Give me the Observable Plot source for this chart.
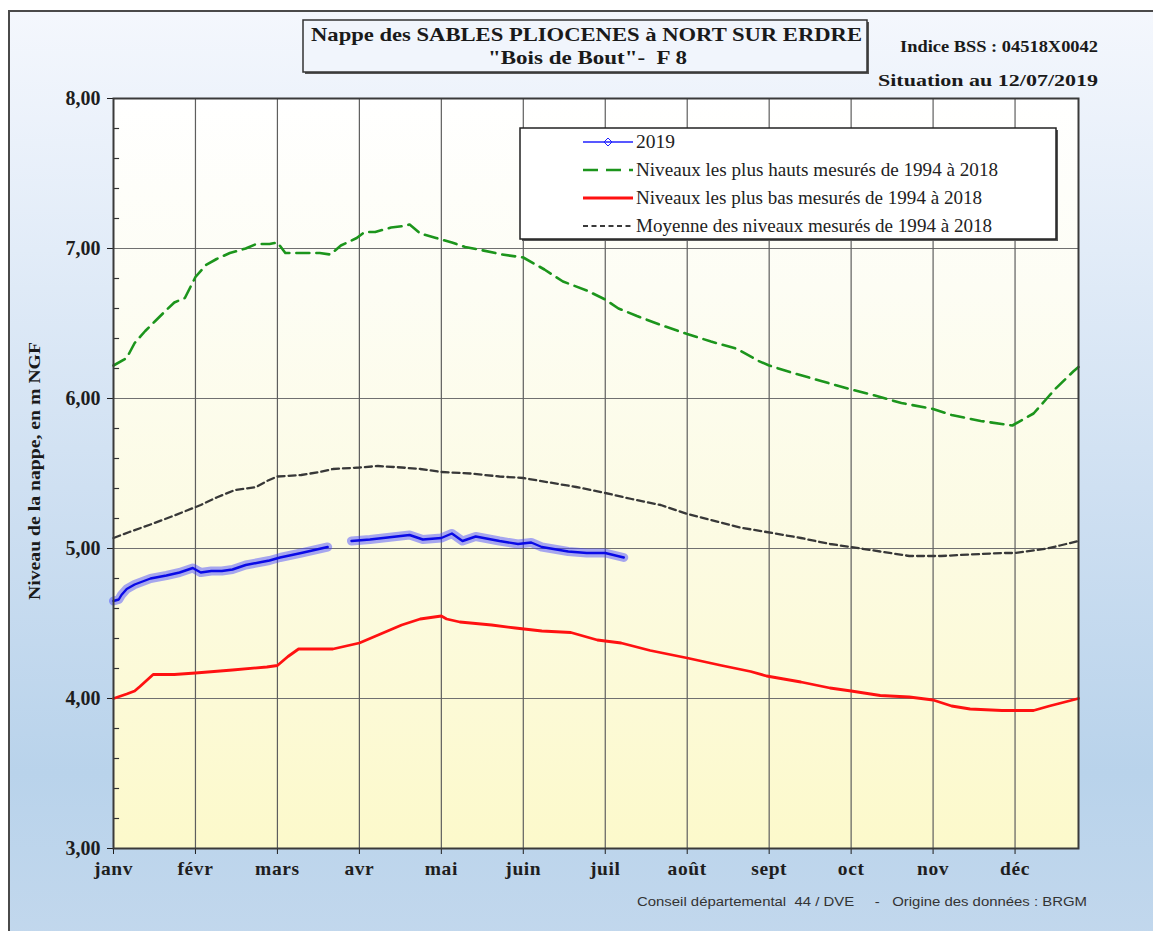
<!DOCTYPE html>
<html>
<head>
<meta charset="utf-8">
<script src="https://cdn.jsdelivr.net/npm/d3@7"></script>
<script src="https://cdn.jsdelivr.net/npm/@observablehq/plot@0.6"></script>
<style>
  html, body { margin: 0; padding: 0; background: #ffffff; }
  #wrap { position: relative; width: 1153px; height: 931px; overflow: hidden; }
  #bg { position: absolute; left: 8px; top: 10px; width: 1170px; height: 950px;
        border-left: 2px solid #4a4a4a; border-top: 2px solid #4a4a4a;
        background: linear-gradient(to bottom, #f4f7fd 0%, #e2ecf8 25%, #cfe0f2 50%, #b9d3eb 80%, #c3d8ed 100%); }
  #plotbg { position: absolute; left: 113px; top: 98px; width: 965px; height: 750px;
        background: linear-gradient(to bottom, #ffffff 0%, #fdfdf4 25%, #fcfbe2 60%, #fcf9cb 100%); }
  #chart { position: absolute; left: 0; top: 0; }
  #overlay { position: absolute; left: 0; top: 0; }
  #chart svg text { font-weight: bold; font-family: 'Liberation Serif', 'Times New Roman', serif; fill: #1e1e1e; }
  #chart svg g[aria-label="y-axis tick label"] text { font-size: 20px !important; }
  #chart svg g[aria-label="x-axis tick label"] text { font-size: 19.5px !important; letter-spacing: 0.6px; }
</style>
</head>
<body>
<div id="wrap">
  <div id="bg"></div>
  <div id="plotbg"></div>
  <div id="chart"></div>
</div>
<script>
// ---------- data ----------
const monthLabels = ["janv","févr","mars","avr","mai","juin","juil","août","sept","oct","nov","déc"];
const monthTicks  = [0,31,62,93,124,155,186,217,248,279,310,341];
const yTicks = [3,4,5,6,7,8];
const yMinorTicks = [3.2,3.4,3.6,3.8,4.2,4.4,4.6,4.8,5.2,5.4,5.6,5.8,6.2,6.4,6.6,6.8,7.2,7.4,7.6,7.8];

// 2019 measurements (null = missing data)
const days2019 = [0,2,3,5,8,14,20,25,30,33,37,41,45,50,56,59,63,71,76,81,85,90,97,102,107,112,117,124,128,132,137,146,153,158,162,172,179,186,193];
const vals2019 = [4.65,4.66,4.69,4.73,4.76,4.80,4.82,4.84,4.87,4.84,4.85,4.85,4.86,4.89,4.91,4.92,4.94,4.97,4.99,5.01,null,5.05,5.06,5.07,5.08,5.09,5.06,5.07,5.10,5.05,5.08,5.05,5.03,5.04,5.01,4.98,4.97,4.97,4.94];

// highest levels 1994-2018
const daysMax = [0,5,8,12,16,20,23,27,29,31,35,39,44,50,54,59,62,65,71,78,82,86,92,95,99,105,110,112,116,122,128,133,139,147,155,163,170,179,186,191,198,207,217,226,236,244,248,257,267,279,288,298,310,317,328,340,348,353,356,363,365];
const valsMax = [6.22,6.27,6.37,6.45,6.52,6.59,6.64,6.67,6.74,6.81,6.89,6.93,6.97,7.00,7.03,7.03,7.04,6.97,6.97,6.97,6.96,7.02,7.07,7.11,7.11,7.14,7.15,7.16,7.10,7.07,7.04,7.01,6.99,6.96,6.94,6.86,6.78,6.72,6.66,6.60,6.55,6.49,6.43,6.38,6.33,6.25,6.22,6.17,6.12,6.06,6.02,5.97,5.93,5.89,5.85,5.82,5.90,6.00,6.06,6.18,6.21];

// lowest levels 1994-2018
const daysMin = [0,5,8,10,15,23,31,45,58,62,66,70,83,93,101,109,116,124,126,131,143,152,162,173,183,192,203,217,230,241,247,260,271,279,290,301,310,317,324,336,348,354,365];
const valsMin = [4.00,4.03,4.05,4.08,4.16,4.16,4.17,4.19,4.21,4.22,4.28,4.33,4.33,4.37,4.43,4.49,4.53,4.55,4.53,4.51,4.49,4.47,4.45,4.44,4.39,4.37,4.32,4.27,4.22,4.18,4.15,4.11,4.07,4.05,4.02,4.01,3.99,3.95,3.93,3.92,3.92,3.95,4.00];

// mean levels 1994-2018
const daysMean = [0,6,14,23,33,39,46,54,58,62,71,78,83,93,100,109,116,124,135,146,155,165,175,186,196,207,217,226,237,247,260,271,279,290,301,313,324,336,341,353,358,365];
const valsMean = [5.07,5.11,5.16,5.22,5.29,5.34,5.39,5.41,5.45,5.48,5.49,5.51,5.53,5.54,5.55,5.54,5.53,5.51,5.50,5.48,5.47,5.44,5.41,5.37,5.33,5.29,5.23,5.19,5.14,5.11,5.07,5.03,5.01,4.98,4.95,4.95,4.96,4.97,4.97,5.00,5.02,5.05];

// texts
const titleLine1 = "Nappe des SABLES PLIOCENES à NORT SUR ERDRE";
const titleLine2 = "\"Bois de Bout\"-  F 8";
const indiceText = "Indice BSS : 04518X0042";
const situationText = "Situation au 12/07/2019";
const yTitle = "Niveau de la nappe, en m NGF";
const footerText = "Conseil départemental  44 / DVE     -   Origine des données : BRGM";
const legendLabels = ["2019", "Niveaux les plus hauts mesurés de 1994 à 2018", "Niveaux les plus bas mesurés de 1994 à 2018", "Moyenne des niveaux mesurés de 1994 à 2018"];

// ---------- tables ----------
const zip = (ds, vs) => ds.map((d, i) => ({day: d, v: vs[i]}));
const data2019 = zip(days2019, vals2019);
const dataMax = zip(daysMax, valsMax);
const dataMin = zip(daysMin, valsMin);
const dataMean = zip(daysMean, valsMean);

const chart = Plot.plot({
  width: 1153,
  height: 931,
  marginLeft: 113,
  marginRight: 75,
  marginTop: 98,
  marginBottom: 83,
  style: {background: "transparent", fontFamily: "'Liberation Serif', serif", fontWeight: "bold", fontSize: "17px", color: "#1e1e1e", overflow: "visible"},
  x: {domain: [0, 365], ticks: monthTicks, tickFormat: (d) => monthLabels[monthTicks.indexOf(d)], tickSize: 6, tickPadding: 7, label: null},
  y: {domain: [3, 8], ticks: yTicks, tickFormat: d => d.toFixed(2).replace(".", ","), tickSize: 6, tickPadding: 7, label: null},
  marks: [
    Plot.ruleY([4,5,6,7], {stroke: "#707070", strokeWidth: 1.2}),
    Plot.ruleX(monthTicks.slice(1), {stroke: "#5e5e5e", strokeWidth: 1.2}),
    Plot.ruleY(yMinorTicks, {x1: 0, x2: 2.3, stroke: "#333", strokeWidth: 1.2}),
    Plot.line(dataMean, {x: "day", y: "v", stroke: "#383838", strokeWidth: 2.3, strokeDasharray: "7,4"}),
    Plot.line(dataMax, {x: "day", y: "v", stroke: "#1c951c", strokeWidth: 2.6, strokeDasharray: "13,7"}),
    Plot.line(dataMin, {x: "day", y: "v", stroke: "#ff1111", strokeWidth: 2.8}),
    Plot.line(data2019, {x: "day", y: "v", stroke: "#3d3dff", strokeWidth: 9, strokeOpacity: 0.45}),
    Plot.line(data2019, {x: "day", y: "v", stroke: "#0a0ae6", strokeWidth: 2.4}),
    Plot.frame({stroke: "#3a3a3a", strokeWidth: 2})
  ]
});
document.getElementById("chart").appendChild(chart);

// ---------- overlay (titles, legend, footer) ----------
const NS = "http://www.w3.org/2000/svg";
const ov = document.createElementNS(NS, "svg");
ov.setAttribute("id", "overlay");
ov.setAttribute("width", 1153);
ov.setAttribute("height", 931);
document.getElementById("wrap").appendChild(ov);
function el(tag, attrs, text) {
  const e = document.createElementNS(NS, tag);
  for (const k in attrs) e.setAttribute(k, attrs[k]);
  if (text != null) e.textContent = text;
  ov.appendChild(e);
  return e;
}
const serif = "'Liberation Serif', 'Times New Roman', serif";
const sans = "'Liberation Sans', Arial, sans-serif";

// title box
el("rect", {x: 305, y: 22, width: 564, height: 52, fill: "#555"});
el("rect", {x: 303, y: 20, width: 564, height: 52, fill: "#f1f5fc", stroke: "#333", "stroke-width": 1.5});
el("text", {x: 311, y: 41, "font-family": serif, "font-weight": "bold", "font-size": 19, fill: "#1a1a1a", textLength: 551, lengthAdjust: "spacingAndGlyphs"}, titleLine1);
el("text", {x: 488, y: 64, "font-family": serif, "font-weight": "bold", "font-size": 19, fill: "#1a1a1a", textLength: 199, lengthAdjust: "spacingAndGlyphs", style: "white-space:pre"}, titleLine2);
el("text", {x: 900, y: 52, "font-family": serif, "font-weight": "bold", "font-size": 17, fill: "#1a1a1a", textLength: 198, lengthAdjust: "spacingAndGlyphs"}, indiceText);
el("text", {x: 878, y: 86, "font-family": serif, "font-weight": "bold", "font-size": 17, fill: "#1a1a1a", textLength: 220, lengthAdjust: "spacingAndGlyphs"}, situationText);

// y axis title
el("text", {x: 0, y: 0, transform: "translate(40,471) rotate(-90)", "text-anchor": "middle", "font-family": serif, "font-weight": "bold", "font-size": 16, fill: "#1a1a1a", textLength: 258, lengthAdjust: "spacingAndGlyphs"}, yTitle);

// legend box
el("rect", {x: 522, y: 130, width: 536, height: 111, fill: "#555"});
el("rect", {x: 520, y: 128, width: 536, height: 111, fill: "#ffffff", stroke: "#222", "stroke-width": 1.5});
const rowsY = [142, 170, 198, 226];
const textLens = [39, 362, 346, 356];
// 2019 sample
el("line", {x1: 583, x2: 633, y1: rowsY[0], y2: rowsY[0], stroke: "#2020ff", "stroke-width": 1.6});
el("path", {d: `M608,${rowsY[0]-4} L612,${rowsY[0]} L608,${rowsY[0]+4} L604,${rowsY[0]} Z`, fill: "none", stroke: "#2020ff", "stroke-width": 1});
// max sample
el("line", {x1: 583, x2: 633, y1: rowsY[1], y2: rowsY[1], stroke: "#1c951c", "stroke-width": 2.6, "stroke-dasharray": "15,8"});
// min sample
el("line", {x1: 583, x2: 633, y1: rowsY[2], y2: rowsY[2], stroke: "#ff1111", "stroke-width": 2.8});
// mean sample
el("line", {x1: 583, x2: 633, y1: rowsY[3], y2: rowsY[3], stroke: "#3a3a3a", "stroke-width": 2, "stroke-dasharray": "5,3.5"});
legendLabels.forEach((t, i) => {
  el("text", {x: 636, y: rowsY[i] + 6, "font-family": serif, "font-size": 18, fill: "#222", textLength: textLens[i], lengthAdjust: "spacingAndGlyphs"}, t);
});

// footer
el("text", {x: 637, y: 906, "font-family": sans, "font-size": 12, fill: "#333", textLength: 450, lengthAdjust: "spacingAndGlyphs", style: "white-space:pre"}, footerText);
</script>
</body>
</html>
